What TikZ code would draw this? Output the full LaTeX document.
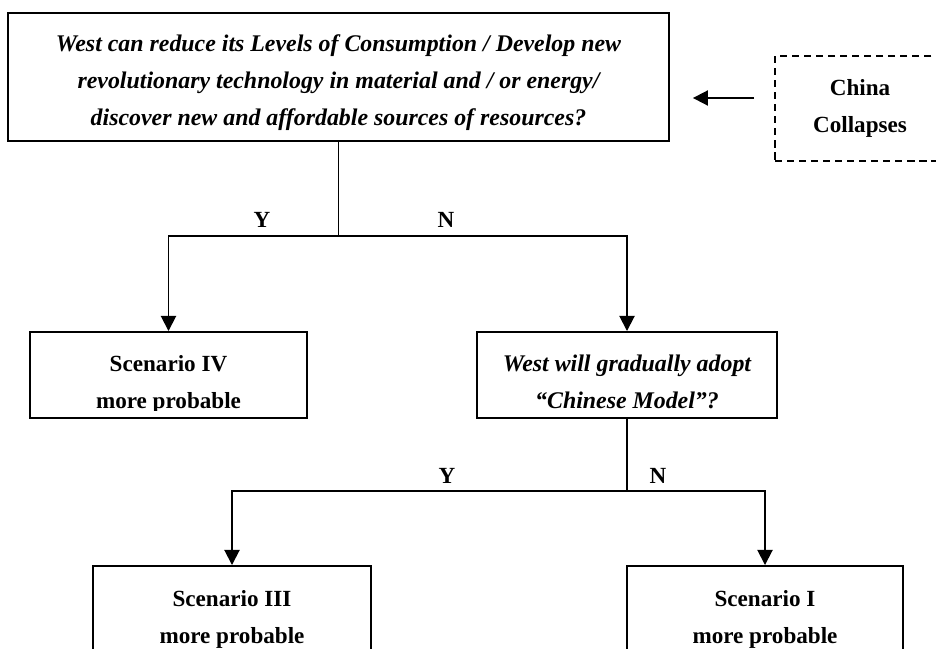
\documentclass[tikz,border=0pt]{standalone}
\usepackage{fontspec}
\setmainfont{Liberation Serif}
\usetikzlibrary{arrows.meta}

\tikzset{
    box/.style={draw, line width=1pt, inner sep=0pt},
    dashedbox/.style={box, dash pattern=on 3.8pt off 2.6pt},
    txt/.style={align=center, inner sep=0pt, anchor=base, font=\fontsize{12.3}{19.5}\selectfont\bfseries},
    question/.style={txt, font=\fontsize{12.7}{19.5}\selectfont\bfseries\itshape},
    link/.style={line width=1pt},
    tip/.style={link, -{Triangle[length=8pt,width=8pt]}}
}

\begin{document}
\begin{tikzpicture}[x=0.532pt, y=-0.532pt]
    \useasboundingbox (0,0) rectangle (936,648);
    \clip (0,0) rectangle (936,648);

    % Cajas
    \node[box, minimum width=351.7pt, minimum height=68.1pt] (top) at (338.5,77) {};
    \node[dashedbox, minimum width=90.4pt, minimum height=55.9pt] (china) at (860,108.5) {};
    \node[box, minimum width=147.4pt, minimum height=45.8pt] (s4) at (168.5,375) {};
    \node[box, minimum width=159.6pt, minimum height=45.8pt] (model) at (627,375) {};
    \node[box, minimum width=147.9pt, minimum height=45.8pt] (s3) at (232,609) {};
    \node[box, minimum width=146.8pt, minimum height=45.8pt] (s1) at (765,609) {};

    % Textos (ancla en la linea base de la ultima linea)
    \node[question] (toptext) at (338.5,125)
        {West can reduce its Levels of Consumption / Develop new\\
         revolutionary technology in material and / or energy/\\
         discover new and affordable sources of resources?};
    \node[txt] (chinatext) at (860,132) {China\\Collapses};
    \begin{scope}
        \clip (s4.north west) rectangle ([yshift=4.3pt]model.south east);
        \node[txt] (s4text) at (168.5,408) {Scenario IV\\more probable};
        \node[question] (modeltext) at (627,408) {West will gradually adopt\\“Chinese Model”?};
    \end{scope}
    \node[txt] (s3text) at (232,643) {Scenario III\\more probable};
    \node[txt] (s1text) at (765,643) {Scenario I\\more probable};

    % Etiquetas Y / N
    \node[txt] (y1) at (262,227) {Y};
    \node[txt] (n1) at (446,227) {N};
    \node[txt] (y2) at (447,483) {Y};
    \node[txt] (n2) at (658,483) {N};

    % Conectores
    \coordinate (split1) at (338.5,236);
    \coordinate (split2) at (627,491);
    \coordinate (arrowy) at (0,98);
    \draw[link] (top.south) -- (split1);
    \draw[tip] (split1) -| (s4.north);
    \draw[tip] (split1) -| (model.north);
    \draw[link] (model.south) -- (split2);
    \draw[tip] (split2) -| (s3.north);
    \draw[tip] (split2) -| (s1.north);
    \draw[tip, shorten <=10.6pt, shorten >=12.2pt] (china.west |- arrowy) -- (top.east |- arrowy);
\end{tikzpicture}
\end{document}
